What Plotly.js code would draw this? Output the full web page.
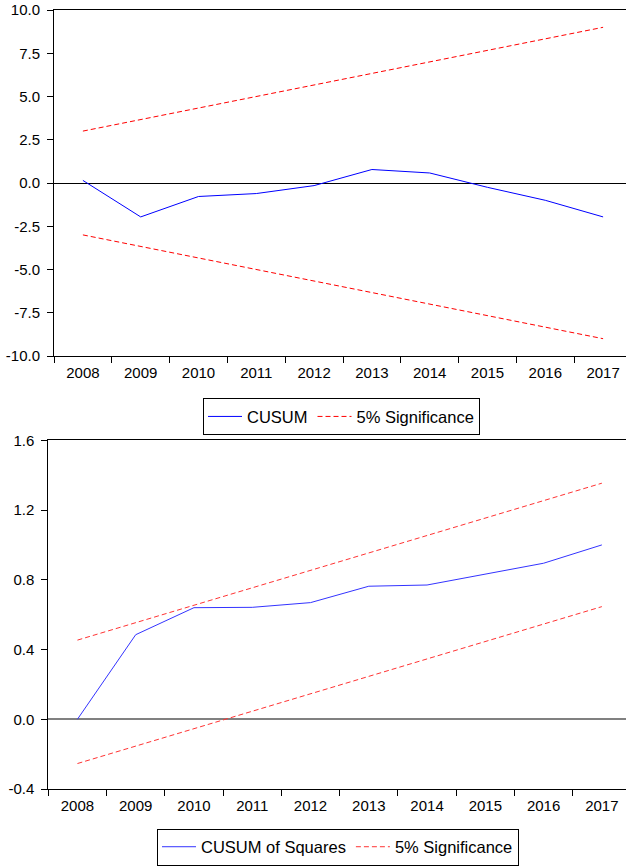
<!DOCTYPE html>
<html>
<head>
<meta charset="utf-8">
<script src="https://cdn.plot.ly/plotly-3.0.1.min.js"></script>
<style>
html, body { margin: 0; padding: 0; overflow: hidden; background: #fff; }
#chart { width: 640px; height: 866px; }
</style>
</head>
<body>
<div id="chart"></div>
<script>
// Data
const years = ["2008", "2009", "2010", "2011", "2012", "2013", "2014", "2015", "2016", "2017"];
const cusum = [0.15, -1.96, -0.78, -0.61, -0.15, 0.78, 0.58, -0.25, -1.0, -1.96];
const cusumUpper = [3.0, 3.67, 4.33, 5.0, 5.67, 6.33, 7.0, 7.67, 8.33, 9.0];
const cusumLower = [-3.0, -3.67, -4.33, -5.0, -5.67, -6.33, -7.0, -7.67, -8.33, -9.0];
const cusumSq = [0.0, 0.485, 0.64, 0.642, 0.669, 0.763, 0.77, 0.832, 0.895, 1.0];
const cusumSqUpper = [0.454, 0.554, 0.654, 0.754, 0.854, 0.954, 1.054, 1.154, 1.254, 1.354];
const cusumSqLower = [-0.254, -0.154, -0.054, 0.046, 0.146, 0.246, 0.346, 0.446, 0.546, 0.646];

// Tick values and labels
const topTickVals = [-10, -7.5, -5, -2.5, 0, 2.5, 5, 7.5, 10];
const topTickText = ["-10.0", "-7.5", "-5.0", "-2.5", "0.0", "2.5", "5.0", "7.5", "10.0"];
const botTickVals = [-0.4, 0, 0.4, 0.8, 1.2, 1.6];
const botTickText = ["-0.4", "0.0", "0.4", "0.8", "1.2", "1.6"];

const W = 640, H = 866;
const FAMILY = "Liberation Sans, Arial, sans-serif";
const TICKFONT = {family: FAMILY, size: 15, color: "#000"};
const LEGFONT = {family: FAMILY, size: 16.5, color: "#000"};
const blue = {color: "#0000FF", width: 1};
const red = {color: "#FF0000", width: 1, dash: "5px,3px"};
const blue2 = {color: "#3333FF", width: 1};
const red2 = {color: "#FF3333", width: 1, dash: "5px,3px"};

const traces = [
  {x: years, y: cusum, type: "scatter", mode: "lines", name: "CUSUM", line: blue, xaxis: "x", yaxis: "y", legend: "legend"},
  {x: years, y: cusumUpper, type: "scatter", mode: "lines", name: "5% Significance", line: red, xaxis: "x", yaxis: "y", legend: "legend", legendgroup: "s1"},
  {x: years, y: cusumLower, type: "scatter", mode: "lines", name: "5% Significance", line: red, xaxis: "x", yaxis: "y", legend: "legend", legendgroup: "s1", showlegend: false},
  {x: years, y: cusumSq, type: "scatter", mode: "lines", name: "CUSUM of Squares", line: blue2, xaxis: "x2", yaxis: "y2", legend: "legend2"},
  {x: years, y: cusumSqUpper, type: "scatter", mode: "lines", name: "5% Significance", line: red2, xaxis: "x2", yaxis: "y2", legend: "legend2", legendgroup: "s2"},
  {x: years, y: cusumSqLower, type: "scatter", mode: "lines", name: "5% Significance", line: red2, xaxis: "x2", yaxis: "y2", legend: "legend2", legendgroup: "s2", showlegend: false}
];

function xax(l, r, anchor) {
  return {
    domain: [l / W, r / W], anchor: anchor, type: "category", range: [-0.5, 9.5],
    tickson: "boundaries", ticks: "outside", ticklen: 6, tickcolor: "#000",
    showline: true, linecolor: "#000", linewidth: 1, mirror: true,
    showgrid: false, zeroline: false, tickfont: TICKFONT, ticklabelstandoff: 3, fixedrange: true
  };
}
function yax(top, bottom, anchor, range, vals, text, zc, zw) {
  return {
    domain: [1 - bottom / H, 1 - top / H], anchor: anchor, range: range,
    tickmode: "array", tickvals: vals, ticktext: text,
    ticks: "outside", ticklen: 6, tickcolor: "#000",
    showline: true, linecolor: "#000", linewidth: 1, mirror: true,
    showgrid: false, zeroline: true, zerolinecolor: zc, zerolinewidth: zw,
    tickfont: TICKFONT, ticklabelstandoff: 4, fixedrange: true
  };
}

const layout = {
  width: W, height: H, autosize: false,
  margin: {l: 0, r: 0, t: 0, b: 0, pad: 0, autoexpand: false},
  paper_bgcolor: "#fff", plot_bgcolor: "#fff",
  font: TICKFONT,
  xaxis: xax(54, 632, "y"),
  yaxis: yax(10, 356, "x", [-10, 10], topTickVals, topTickText, "#000", 1),
  xaxis2: xax(48.3, 631, "y2"),
  yaxis2: yax(440.3, 789, "x2", [-0.4, 1.6], botTickVals, botTickText, "#808080", 2),
  legend: {
    x: 203 / W, y: 1 - 416.7 / H, xanchor: "left", yanchor: "middle",
    orientation: "h", bordercolor: "#000", borderwidth: 1, bgcolor: "#fff",
    font: LEGFONT, itemwidth: 34, tracegroupgap: 0
  },
  legend2: {
    x: 157 / W, y: 0.5 / H, xanchor: "left", yanchor: "bottom",
    orientation: "h", bordercolor: "#000", borderwidth: 1, bgcolor: "#fff",
    font: LEGFONT, itemwidth: 34, tracegroupgap: 0
  },
  showlegend: true
};

Plotly.newPlot("chart", traces, layout, {displayModeBar: false, staticPlot: true});
</script>
</body>
</html>
